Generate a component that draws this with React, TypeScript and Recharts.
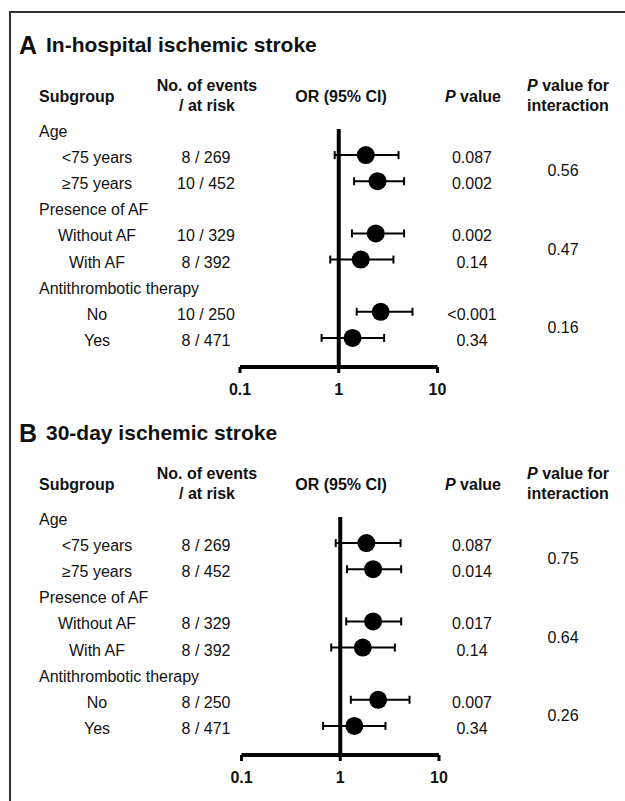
import React from "react";
import { ScatterChart, Scatter, XAxis, YAxis, ErrorBar, ReferenceLine } from "recharts";

const groupTitles = ["Age", "Presence of AF", "Antithrombotic therapy"];
const subgroups = ["<75 years", "≥75 years", "Without AF", "With AF", "No", "Yes"];
const orTicks = [0.1, 1, 10];

// panel A: in-hospital ischemic stroke
const eventsA = ["8 / 269", "10 / 452", "10 / 329", "8 / 392", "10 / 250", "8 / 471"];
const orA = [1.88, 2.47, 2.37, 1.67, 2.66, 1.38];
const lowA = [0.91, 1.43, 1.36, 0.82, 1.52, 0.67];
const highA = [4.03, 4.59, 4.59, 3.58, 5.58, 2.88];
const pA = ["0.087", "0.002", "0.002", "0.14", "<0.001", "0.34"];
const pIntA = ["0.56", "0.47", "0.16"];

// panel B: 30-day ischemic stroke
const eventsB = ["8 / 269", "8 / 452", "8 / 329", "8 / 392", "8 / 250", "8 / 471"];
const orB = [1.84, 2.15, 2.15, 1.69, 2.42, 1.39];
const lowB = [0.9, 1.17, 1.15, 0.81, 1.28, 0.67];
const highB = [4.08, 4.14, 4.14, 3.57, 5.03, 2.87];
const pB = ["0.087", "0.014", "0.017", "0.14", "0.007", "0.34"];
const pIntB = ["0.75", "0.64", "0.26"];

const FONT = '"Liberation Sans", Arial, Helvetica, sans-serif';
const INK = "#111";

function buildRows(events: string[], or: number[], low: number[], high: number[], p: string[], pInt: string[]) {
  const rows: any[] = [];
  const points: any[] = [];
  let row = 1;
  groupTitles.forEach((title, g) => {
    rows.push({ row, kind: "group", label: title });
    row++;
    const start = row;
    for (let k = 0; k < 2; k++) {
      const i = g * 2 + k;
      rows.push({ row, kind: "sub", label: subgroups[i], events: events[i], p: p[i] });
      points.push({ row, or: or[i], err: [or[i] - low[i], high[i] - or[i]] });
      row++;
    }
    rows.push({ row: start + 0.5, kind: "int", label: pInt[g] });
  });
  return { rows, points, total: row };
}

function RowTick(props: any) {
  const { y, payload, rows } = props;
  const r = rows.find((d: any) => d.row === payload.value);
  if (!r) return null;
  const common = { fontSize: 16, fill: INK, fontFamily: FONT, dy: "0.5em" };
  if (r.kind === "group") {
    return <text x={39} y={y} textAnchor="start" {...common}>{r.label}</text>;
  }
  if (r.kind === "int") {
    return <text x={563} y={y} textAnchor="middle" {...common}>{r.label}</text>;
  }
  return (
    <g>
      <text x={97} y={y} textAnchor="middle" {...common}>{r.label}</text>
      <text x={206} y={y} textAnchor="middle" {...common}>{r.events}</text>
      <text x={472} y={y} textAnchor="middle" {...common}>{r.p}</text>
    </g>
  );
}

function OrTick(props: any) {
  const { x, y, payload } = props;
  return (
    <text x={x} y={y} dy="0.72em" textAnchor="middle" fontSize={16} fontWeight={700} fill={INK} fontFamily={FONT}>
      {String(payload.value)}
    </text>
  );
}

function Txt({ x, y, size = 16, bold = false, anchor = "middle", children }: any) {
  return (
    <div
      style={{
        position: "absolute",
        left: x,
        top: y - 12,
        height: 24,
        lineHeight: "24px",
        fontSize: size,
        fontWeight: bold ? 700 : 400,
        whiteSpace: "nowrap",
        color: INK,
        transform: anchor === "middle" ? "translateX(-50%)" : undefined,
      }}
    >
      {children}
    </div>
  );
}

function Panel({ top, letter, title, data, dx }: any) {
  const { rows, points, total } = data;
  return (
    <div style={{ position: "absolute", left: 0, top, width: 625, height: 400 }}>
      <Txt x={19} y={45} size={25} bold anchor="start">{letter}</Txt>
      <Txt x={46} y={45} size={21} bold anchor="start">{title}</Txt>

      <Txt x={39} y={97} bold anchor="start">Subgroup</Txt>
      <Txt x={207} y={86} bold>No. of events</Txt>
      <Txt x={207} y={106} bold>/ at risk</Txt>
      <Txt x={341} y={97} bold>OR (95% CI)</Txt>
      <Txt x={473} y={97} bold><i>P</i> value</Txt>
      <Txt x={568} y={86} bold><i>P</i> value for</Txt>
      <Txt x={568} y={106} bold>interaction</Txt>

      <div style={{ position: "absolute", left: 0, top: 0 }}>
        <ScatterChart
          width={625}
          height={400}
          margin={{ top: 129, left: 10 + dx, right: 187.5 - dx, bottom: 0 }}
        >
          <XAxis
            type="number"
            dataKey="or"
            scale="log"
            domain={[0.1, 10]}
            ticks={orTicks}
            allowDataOverflow
            height={33}
            axisLine={{ stroke: "#000", strokeWidth: 4 }}
            tickLine={{ stroke: "#000", strokeWidth: 3 }}
            tickSize={6}
            tickMargin={10}
            tick={<OrTick />}
          />
          <YAxis
            type="number"
            dataKey="row"
            domain={[1, total]}
            reversed
            ticks={rows.map((r: any) => r.row)}
            interval={0}
            width={230}
            padding={{ top: 0, bottom: 3 }}
            axisLine={false}
            tickLine={false}
            tick={(p: any) => <RowTick {...p} rows={rows} />}
          />
          <ReferenceLine x={1} stroke="#000" strokeWidth={4} />
          <Scatter
            data={points}
            isAnimationActive={false}
            shape={(p: any) => <circle cx={p.cx} cy={p.cy} r={9} fill="#000" />}
          >
            <ErrorBar dataKey="err" direction="x" width={4} stroke="#000" strokeWidth={2} />
          </Scatter>
        </ScatterChart>
      </div>
    </div>
  );
}

export default function App() {
  const dataA = buildRows(eventsA, orA, lowA, highA, pA, pIntA);
  const dataB = buildRows(eventsB, orB, lowB, highB, pB, pIntB);
  return (
    <div
      style={{
        position: "absolute",
        left: 0,
        top: 0,
        width: 625,
        height: 801,
        overflow: "hidden",
        background: "#fff",
        fontFamily: FONT,
      }}
    >
      <div
        style={{
          position: "absolute",
          left: 9,
          top: 11,
          width: 800,
          height: 1000,
          borderLeft: "2px solid #333",
          borderTop: "2px solid #333",
        }}
      />
      <Panel top={0} letter="A" title="In-hospital ischemic stroke" data={dataA} dx={0} />
      <Panel top={388} letter="B" title="30-day ischemic stroke" data={dataB} dx={1.5} />
    </div>
  );
}
